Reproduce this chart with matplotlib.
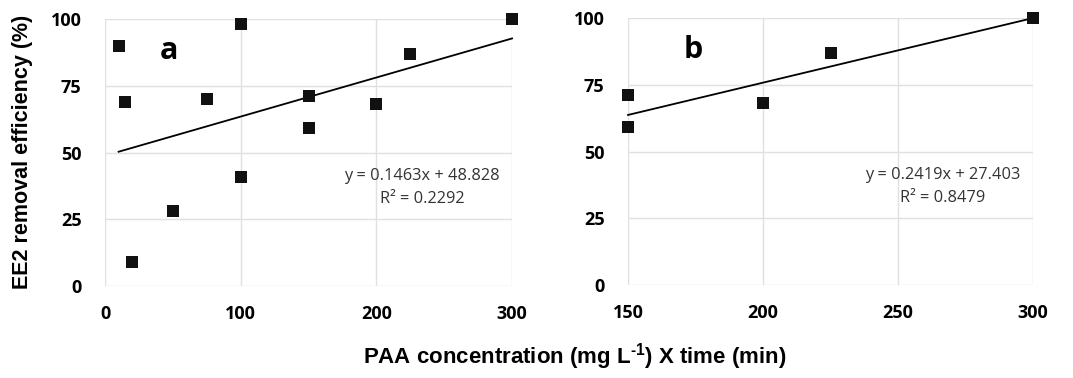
import numpy as np
import matplotlib
matplotlib.use("Agg")
import matplotlib.pyplot as plt
from matplotlib.font_manager import FontProperties

# panel a data
xa = [10, 15, 20, 50, 75, 100, 100, 150, 150, 200, 225, 300]
ya = [90, 69, 9, 28, 70, 98, 41, 71, 59, 68, 87, 100]
# panel b data
xb = [150, 150, 200, 225, 300]
yb = [71, 59, 68, 87, 100]

# trendline coefficients as printed on the chart
fit_a = (0.1463, 48.828, 0.2292)
fit_b = (0.2419, 27.403, 0.8479)

xticks_a = [0, 100, 200, 300]
xticks_b = [150, 200, 250, 300]
yticks = [0, 25, 50, 75, 100]

plt.rcParams["mathtext.fontset"] = "custom"
plt.rcParams["mathtext.rm"] = "Liberation Sans:bold"
plt.rcParams["mathtext.bf"] = "Liberation Sans:bold"

GRID = "#e0e0e0"
TICKFONT = FontProperties(family="Open Sans", weight="bold", size=13)

fig = plt.figure(figsize=(10.73, 3.78), dpi=100, facecolor="white")
axA = fig.add_axes([0.0979, 0.2434, 0.3793, 0.7063])
axB = fig.add_axes([0.5853, 0.2460, 0.3774, 0.7064])


def panel(ax, x, y, fit, xticks, letter, letter_x, eq_x):
    slope, icpt, r2 = fit
    ax.scatter(x, y, marker="s", s=64, color="#111111", zorder=3, linewidths=0, clip_on=False)
    xl = np.array([min(x), max(x)])
    ax.plot(xl, slope * xl + icpt, color="black", lw=1.3, zorder=2, clip_on=False)
    ax.set_xlim(xticks[0], xticks[-1])
    ax.set_ylim(0, 100)
    ax.set_xticks(xticks)
    ax.set_yticks(yticks)
    ax.grid(True, color=GRID, lw=1)
    ax.set_axisbelow(True)
    for s in ax.spines.values():
        s.set_visible(False)
    ax.tick_params(axis="y", length=0, pad=17)
    ax.tick_params(axis="x", length=0, pad=14)
    for lab in ax.get_xticklabels() + ax.get_yticklabels():
        lab.set_fontproperties(TICKFONT)
    ax.text(letter_x, 88, letter, fontsize=22, fontweight="bold", family="Open Sans",
            ha="center", va="center")
    ax.text(eq_x, 41.2, f"y = {slope:.4f}x + {icpt:.3f}", fontsize=11.8,
            family="Open Sans", ha="center", va="center", color="#333333")
    ax.text(eq_x, 32.6, f"R² = {r2:.4f}", fontsize=11.8,
            family="Open Sans", ha="center", va="center", color="#333333")


panel(axA, xa, ya, fit_a, xticks_a, "a", 47, 233.7)
panel(axB, xb, yb, fit_b, xticks_b, "b", 174, 266.7)

fig.text(0.021, 0.598, "EE2 removal efficiency (%)", rotation=90, ha="center", va="center",
         family="Liberation Sans", fontweight="bold", fontsize=15.5)
fig.text(0.536, 0.058, r"PAA concentration (mg L$^{\text{-1}}$) X time (min)", ha="center", va="center",
         family="Liberation Sans", fontweight="bold", fontsize=16)

fig.savefig("out.png", dpi=100, facecolor="white")
